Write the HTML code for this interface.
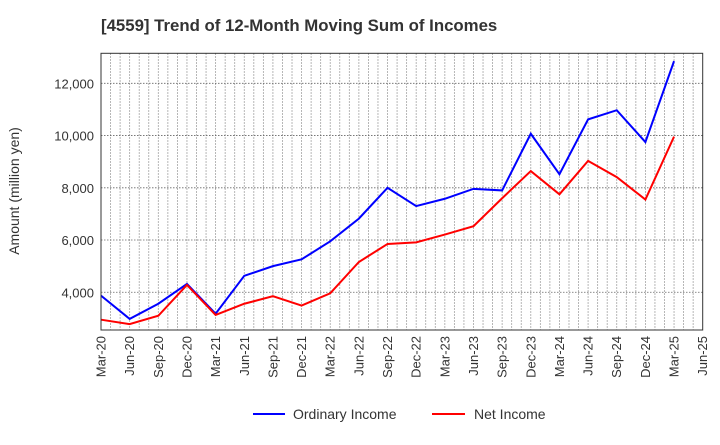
<!DOCTYPE html>
<html><head><meta charset="utf-8"><style>
body{margin:0;background:#fff;font-family:"Liberation Sans",sans-serif}
</style></head><body>
<svg width="720" height="440" xmlns="http://www.w3.org/2000/svg">
<text x="101" y="31" font-size="16.8" font-weight="bold" fill="#333">[4559]  Trend of 12-Month Moving Sum of Incomes</text>
<g id="grid"></g>
<g id="yticks"></g>
<g id="xticks"></g>
<g id="series"></g>
<rect x="101" y="53.3" width="601.7" height="276.7" fill="none" stroke="#333" stroke-width="1"/>
<text transform="translate(19,191) rotate(-90)" text-anchor="middle" font-size="14" fill="#333">Amount (million yen)</text>
<g>
<line x1="253" y1="414" x2="285" y2="414" stroke="#0000ff" stroke-width="2"/>
<text x="293" y="419" font-size="14" fill="#333">Ordinary Income</text>
<line x1="432" y1="414" x2="465" y2="414" stroke="#ff0000" stroke-width="2"/>
<text x="474" y="419" font-size="14" fill="#333">Net Income</text>
</g>
</svg>
<script>
const categories=["Mar-20","Jun-20","Sep-20","Dec-20","Mar-21","Jun-21","Sep-21","Dec-21","Mar-22","Jun-22","Sep-22","Dec-22","Mar-23","Jun-23","Sep-23","Dec-23","Mar-24","Jun-24","Sep-24","Dec-24","Mar-25","Jun-25"];
const ordinaryIncome=[3870,2980,3560,4320,3180,4630,5000,5260,5950,6820,8000,7300,7580,7960,7900,10070,8520,10620,10970,9750,12850];
const netIncome=[2950,2780,3100,4280,3130,3560,3850,3490,3960,5160,5850,5910,6210,6530,7600,8640,7750,9030,8410,7550,9960];
const yTicks=[4000,6000,8000,10000,12000];
const NS="http://www.w3.org/2000/svg";
const L=101,R=702.7,T=53.3,B=330,yMin=2555,yMax=13150;
const xs=i=>L+i*(R-L)/(categories.length-1);
const ys=v=>B-(v-yMin)/(yMax-yMin)*(B-T);
function mk(tag,attrs,parent){const e=document.createElementNS(NS,tag);for(const k in attrs)e.setAttribute(k,attrs[k]);parent.appendChild(e);return e;}
const grid=document.getElementById('grid'),yt=document.getElementById('yticks'),xt=document.getElementById('xticks'),se=document.getElementById('series');
const n=(categories.length-1)*3;
for(let m=1;m<n;m++){const x=L+m*(R-L)/n;
 const g=mk('line',{x1:x,x2:x,y1:T,y2:B,stroke:'#888','stroke-width':0.8,'stroke-dasharray':'1.5,1.5'},grid);
 
 }
yTicks.forEach(v=>{const y=ys(v);
 const g=mk('line',{x1:L,x2:R,y1:y,y2:y,stroke:'#666','stroke-width':0.8,'stroke-dasharray':'1.5,1.5'},grid);
 
 
 const t=mk('text',{x:94,y:y+5,'text-anchor':'end','font-size':13,fill:'#333'},yt);
 t.textContent=v.toLocaleString('en-US');
 
 });
categories.forEach((c,i)=>{const x=xs(i);
 const t=mk('text',{transform:`translate(${x+4.5},336) rotate(-90)`,'text-anchor':'end','font-size':13,fill:'#333'},xt);
 t.textContent=c;
 
 });
function line(data,color,name){const p=mk('polyline',{points:data.map((v,i)=>xs(i)+','+ys(v)).join(' '),fill:'none',stroke:color,'stroke-width':2,'stroke-linejoin':'miter'},se);
 
 }
line(ordinaryIncome,'#0000ff','ordinary-income-line');
line(netIncome,'#ff0000','net-income-line');
</script>
</body></html>
